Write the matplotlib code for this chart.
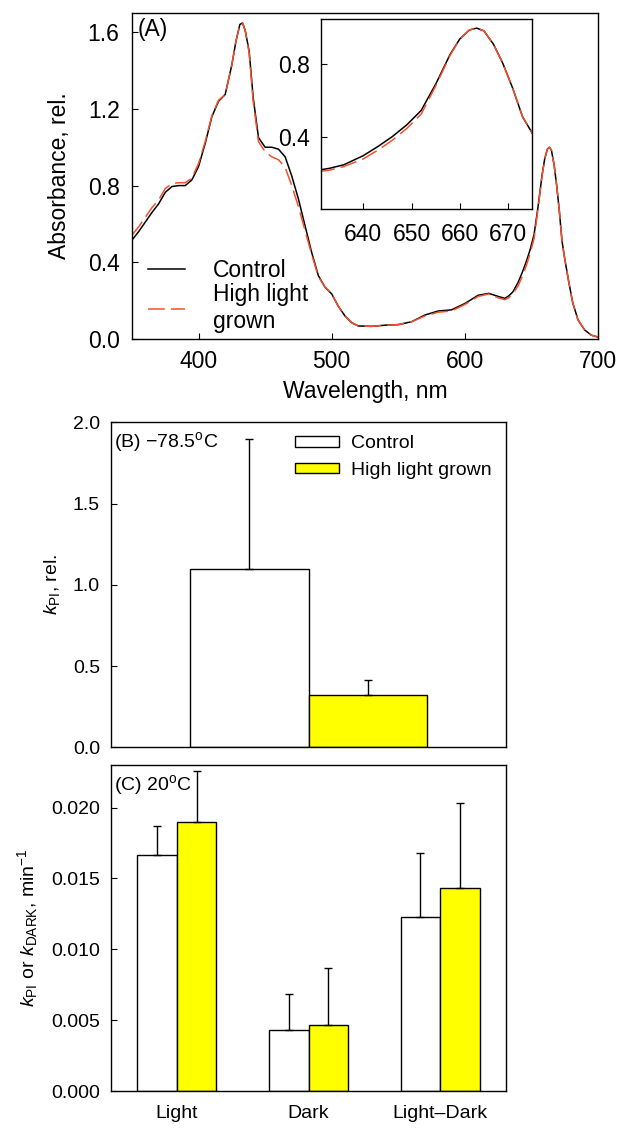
import numpy as np
import matplotlib
matplotlib.use("Agg")
import matplotlib.pyplot as plt

plt.rcParams['font.family'] = ['Liberation Sans', 'DejaVu Sans']
plt.rcParams['mathtext.fontset'] = 'custom'
plt.rcParams['mathtext.rm'] = 'Liberation Sans'
plt.rcParams['mathtext.it'] = 'Liberation Sans:italic'
plt.rcParams['axes.linewidth'] = 1.0

# (A) absorbance spectra
wavelength = [350, 355, 360, 365, 370, 375, 380, 385, 390, 395, 400, 405, 410, 415,
              420, 425, 428, 431, 433, 435, 438, 441, 445, 450, 455, 460, 465, 470,
              475, 480, 485, 490, 495, 500, 505, 510, 515, 520, 530, 540, 550, 560,
              570, 580, 590, 600, 610, 618, 625, 630, 633, 636, 640, 643, 646, 649,
              652, 655, 658, 660, 662, 663.5, 665, 667, 669, 671, 673, 675, 678, 681,
              685, 690, 695, 700]
abs_control = [0.516, 0.56, 0.61, 0.66, 0.705, 0.765, 0.795, 0.80, 0.80, 0.83, 0.90,
               1.02, 1.16, 1.24, 1.275, 1.43, 1.55, 1.64, 1.648, 1.61, 1.50, 1.26,
               1.05, 1.00, 1.00, 0.99, 0.95, 0.85, 0.73, 0.59, 0.45, 0.33, 0.27,
               0.235, 0.17, 0.12, 0.085, 0.068, 0.066, 0.072, 0.075, 0.09, 0.125,
               0.146, 0.152, 0.185, 0.228, 0.238, 0.222, 0.212, 0.225, 0.245, 0.295,
               0.345, 0.40, 0.465, 0.545, 0.69, 0.855, 0.94, 0.99, 1.0, 0.985, 0.91,
               0.80, 0.665, 0.51, 0.42, 0.30, 0.19, 0.10, 0.047, 0.02, 0.01]
abs_highlight = [0.542, 0.585, 0.635, 0.685, 0.725, 0.785, 0.81, 0.815, 0.815, 0.84,
                 0.915, 1.03, 1.165, 1.245, 1.275, 1.43, 1.55, 1.64, 1.648, 1.61,
                 1.49, 1.24, 1.03, 0.976, 0.95, 0.935, 0.895, 0.80, 0.69, 0.565, 0.44,
                 0.325, 0.27, 0.235, 0.17, 0.12, 0.085, 0.068, 0.066, 0.072, 0.075,
                 0.09, 0.12, 0.14, 0.146, 0.18, 0.222, 0.235, 0.215, 0.205, 0.215,
                 0.235, 0.277, 0.325, 0.38, 0.445, 0.525, 0.68, 0.85, 0.94, 0.99, 1.0,
                 0.985, 0.91, 0.80, 0.665, 0.51, 0.42, 0.30, 0.19, 0.10, 0.047, 0.02,
                 0.01]

# (B) kPI at -78.5 C
kpi_b = [1.095, 0.322]
kpi_b_err = [0.80, 0.094]

# (C) 20 C
groups_c = ['Light', 'Dark', 'Light\u2013Dark']
ctrl_c = [0.01666, 0.00431, 0.0123]
ctrl_c_err = [0.00205, 0.00252, 0.0045]
hl_c = [0.01899, 0.00464, 0.01433]
hl_c_err = [0.0036, 0.00406, 0.00602]

series_labels = ['Control', 'High light grown']
red = '#f5502c'
yellow = '#ffff00'
dash = (0, (11, 4))

fig = plt.figure(figsize=(6.18, 11.3), dpi=100)

# ---- panel A
ax_a = fig.add_axes([0.2136, 0.700, 0.754, 0.2885])
ax_a.plot(wavelength, abs_control, color='black', lw=1.1, label='Control')
ax_a.plot(wavelength, abs_highlight, color=red, lw=1.1, ls=dash,
          label='High light\ngrown')
ax_a.set_xlim(350, 700)
ax_a.set_ylim(0, 1.7)
ax_a.set_xticks([400, 500, 600, 700])
ax_a.set_yticks([0.0, 0.4, 0.8, 1.2, 1.6])
ax_a.yaxis.set_major_formatter(matplotlib.ticker.FormatStrFormatter('%.1f'))
ax_a.tick_params(direction='in', length=4, labelsize=16.5, pad=8)
ax_a.tick_params(axis='y', pad=9)
ax_a.set_xlabel('Wavelength, nm', fontsize=16.5, labelpad=5)
ax_a.set_ylabel('Absorbance, rel.', fontsize=16.5, labelpad=12)
ax_a.text(0.012, 0.985, '(A)', transform=ax_a.transAxes, fontsize=16.5,
          ha='left', va='top')
ax_a.legend(loc='upper left', bbox_to_anchor=(0.0, 0.295), frameon=False,
            fontsize=16.5, handlelength=1.6, handletextpad=1.25,
            labelspacing=0.05, borderpad=0.2)

# inset
ax_in = fig.add_axes([0.519, 0.815, 0.3414, 0.1681])
ax_in.plot(wavelength, abs_control, color='black', lw=1.1)
ax_in.plot(wavelength, abs_highlight, color=red, lw=1.1, ls=dash)
ax_in.set_xlim(631.2, 674.9)
ax_in.set_ylim(0, 1.05)
ax_in.set_xticks([640, 650, 660, 670])
ax_in.set_yticks([0.4, 0.8])
ax_in.tick_params(direction='in', length=4, labelsize=16.5, pad=10)
ax_in.tick_params(axis='y', pad=8)

# ---- panel B
ax_b = fig.add_axes([0.1796, 0.3387, 0.6392, 0.2876])
x_b = np.arange(2)
ax_b.bar(x_b[0], kpi_b[0], width=1.0, color='white', edgecolor='black', lw=1.0,
         label=series_labels[0])
ax_b.bar(x_b[1], kpi_b[1], width=1.0, color=yellow, edgecolor='black', lw=1.0,
         label=series_labels[1])
ax_b.errorbar(x_b, kpi_b, yerr=[[0, 0], kpi_b_err], fmt='none', ecolor='black',
              elinewidth=1.0, capsize=2.6, capthick=1.0)
ax_b.set_xlim(-1.165, 2.163)
ax_b.set_ylim(0, 2.0)
ax_b.set_xticks([])
ax_b.set_yticks([0.0, 0.5, 1.0, 1.5, 2.0])
ax_b.yaxis.set_major_formatter(matplotlib.ticker.FormatStrFormatter('%.1f'))
ax_b.tick_params(direction='in', length=4, labelsize=14, pad=8)
ax_b.set_ylabel(r'$k_{\rm PI}$, rel.', fontsize=14, labelpad=8)
ax_b.text(0.008, 0.975, '(B) \u221278.5$^{\\rm o}$C', transform=ax_b.transAxes,
          fontsize=14, ha='left', va='top')
ax_b.legend(loc='upper left', bbox_to_anchor=(0.466, 0.96), frameon=False,
            fontsize=14, handlelength=2.27, handleheight=0.45, handletextpad=0.6,
            labelspacing=0.5, borderpad=0.0, borderaxespad=0.0)

# ---- panel C
ax_c = fig.add_axes([0.1796, 0.0345, 0.6392, 0.2885])
x_c = np.arange(len(groups_c))
w = 0.30
ax_c.bar(x_c - w / 2, ctrl_c, width=w, color='white', edgecolor='black', lw=1.0)
ax_c.bar(x_c + w / 2, hl_c, width=w, color=yellow, edgecolor='black', lw=1.0)
ax_c.errorbar(x_c - w / 2, ctrl_c, yerr=[[0] * 3, ctrl_c_err], fmt='none',
              ecolor='black', elinewidth=1.0, capsize=2.6, capthick=1.0)
ax_c.errorbar(x_c + w / 2, hl_c, yerr=[[0] * 3, hl_c_err], fmt='none',
              ecolor='black', elinewidth=1.0, capsize=2.6, capthick=1.0)
ax_c.set_xlim(-0.5, 2.5)
ax_c.set_ylim(0, 0.023)
ax_c.set_xticks(x_c)
ax_c.set_xticklabels(groups_c)
ax_c.set_yticks([0.0, 0.005, 0.010, 0.015, 0.020])
ax_c.yaxis.set_major_formatter(matplotlib.ticker.FormatStrFormatter('%.3f'))
ax_c.tick_params(direction='in', length=4, labelsize=14, pad=8)
ax_c.tick_params(axis='x', length=0, pad=10)
ax_c.set_ylabel(r'$k_{\rm PI}$ or $k_{\rm DARK}$, min$^{-1}$', fontsize=14,
                labelpad=8)
ax_c.text(0.008, 0.975, '(C) 20$^{\\rm o}$C', transform=ax_c.transAxes,
          fontsize=14, ha='left', va='top')

fig.savefig('out.png', dpi=100)
